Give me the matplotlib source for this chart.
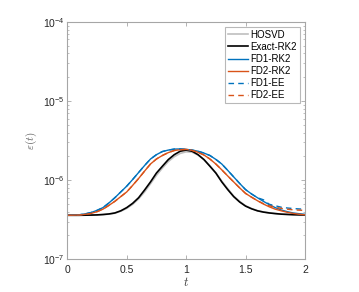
import numpy as np
import matplotlib
matplotlib.use('Agg')
import matplotlib.pyplot as plt

plt.rcParams['font.family'] = ['Liberation Sans', 'DejaVu Sans']
plt.rcParams['mathtext.fontset'] = 'cm'

t = [0.00, 0.05, 0.10, 0.15, 0.20, 0.25, 0.30, 0.35, 0.40, 0.45,
     0.50, 0.55, 0.60, 0.65, 0.70, 0.75, 0.80, 0.85, 0.90, 0.95,
     1.00, 1.05, 1.10, 1.15, 1.20, 1.25, 1.30, 1.35, 1.40, 1.45,
     1.50, 1.55, 1.60, 1.65, 1.70, 1.75, 1.80, 1.85, 1.90, 1.95, 2.00]

# values in units of 1e-7
hosvd = [3.60, 3.60, 3.60, 3.61, 3.62, 3.63, 3.67, 3.72, 3.82, 4.05,
         4.40, 4.95, 5.80, 7.10, 9.00, 11.5, 14.2, 17.2, 19.8, 21.8,
         22.8, 22.6, 20.8, 18.2, 15.2, 12.4, 9.70, 7.80, 6.30, 5.40,
         4.75, 4.38, 4.12, 3.97, 3.87, 3.79, 3.73, 3.69, 3.67, 3.65, 3.63]
exact_rk2 = [3.60, 3.60, 3.60, 3.61, 3.62, 3.64, 3.68, 3.74, 3.85, 4.10,
             4.50, 5.10, 6.00, 7.50, 9.50, 12.3, 15.0, 18.2, 21.0, 23.2,
             24.0, 23.2, 21.0, 18.2, 15.0, 12.3, 9.50, 7.60, 6.20, 5.30,
             4.70, 4.35, 4.10, 3.95, 3.85, 3.78, 3.72, 3.69, 3.66, 3.64, 3.63]
fd1_rk2 = [3.60, 3.62, 3.65, 3.75, 3.90, 4.15, 4.50, 5.15, 6.00, 7.10,
           8.40, 10.2, 12.5, 15.3, 18.5, 21.0, 23.0, 24.0, 24.7, 24.8,
           24.5, 24.0, 23.2, 22.0, 20.5, 18.3, 16.0, 13.3, 11.0, 9.10,
           7.60, 6.70, 6.00, 5.40, 4.90, 4.50, 4.20, 4.00, 3.85, 3.77, 3.70]
fd2_rk2 = [3.60, 3.61, 3.63, 3.70, 3.80, 4.00, 4.30, 4.80, 5.40, 6.20,
           7.10, 8.60, 10.5, 13.0, 16.0, 18.5, 20.5, 22.3, 23.7, 24.3,
           24.5, 23.8, 22.5, 20.8, 18.5, 16.0, 13.5, 11.3, 9.50, 8.00,
           6.80, 6.10, 5.50, 5.00, 4.60, 4.30, 4.10, 3.93, 3.80, 3.71, 3.65]
fd1_ee_tail = [5.65, 4.95, 4.75, 4.55, 4.45, 4.38, 4.33, 4.30]
fd2_ee_tail = [5.05, 4.75, 4.55, 4.40, 4.30, 4.22, 4.18, 4.15]

fd1_ee = fd1_rk2[:33] + fd1_ee_tail
fd2_ee = fd2_rk2[:33] + fd2_ee_tail

scale = 1e-7
blue = '#0072BD'
orange = '#D95319'

fig = plt.figure(figsize=(3.59, 2.92), dpi=100)
ax = fig.add_axes([0.1875, 0.112, 0.662, 0.813])

ax.plot(t, np.array(hosvd) * scale, color='#bfbfbf', lw=1.2, label='HOSVD')
ax.plot(t, np.array(exact_rk2) * scale, color='black', lw=1.2, label='Exact-RK2')
ax.plot(t, np.array(fd1_rk2) * scale, color=blue, lw=1.0, label='FD1-RK2')
ax.plot(t, np.array(fd2_rk2) * scale, color=orange, lw=1.0, label='FD2-RK2')
ax.plot(t, np.array(fd1_ee) * scale, color=blue, lw=1.0, ls=(0, (4, 3)), label='FD1-EE')
ax.plot(t, np.array(fd2_ee) * scale, color=orange, lw=1.0, ls=(0, (4, 3)), label='FD2-EE')

ax.set_yscale('log')
ax.set_xlim(0, 2)
ax.set_ylim(1e-7, 1e-4)
ax.set_xticks([0, 0.5, 1, 1.5, 2])
ax.set_xticklabels(['0', '0.5', '1', '1.5', '2'])

for s in ax.spines.values():
    s.set_color('#a6a6a6')
    s.set_linewidth(0.8)
ax.tick_params(which='both', direction='in', top=True, right=True, colors='#a6a6a6',
               labelcolor='#262626', labelsize=7.5)
ax.tick_params(which='major', length=3, width=0.6)
ax.tick_params(which='minor', length=1.6, width=0.5)
ax.tick_params(axis='x', pad=4)
ax.tick_params(axis='y', pad=2)

ax.set_xlabel('$t$', fontsize=9, color='#404040', labelpad=1)
ax.set_ylabel(r'$\varepsilon(t)$', fontsize=8, color='#606060', labelpad=3)

leg = ax.legend(loc='upper right', fontsize=7, frameon=True, fancybox=False,
                edgecolor='#a6a6a6', handlelength=2.0, handletextpad=0.3,
                labelspacing=0.22, borderpad=0.3, borderaxespad=0.5)
leg.get_frame().set_linewidth(0.8)

fig.savefig('out.png', dpi=100)
